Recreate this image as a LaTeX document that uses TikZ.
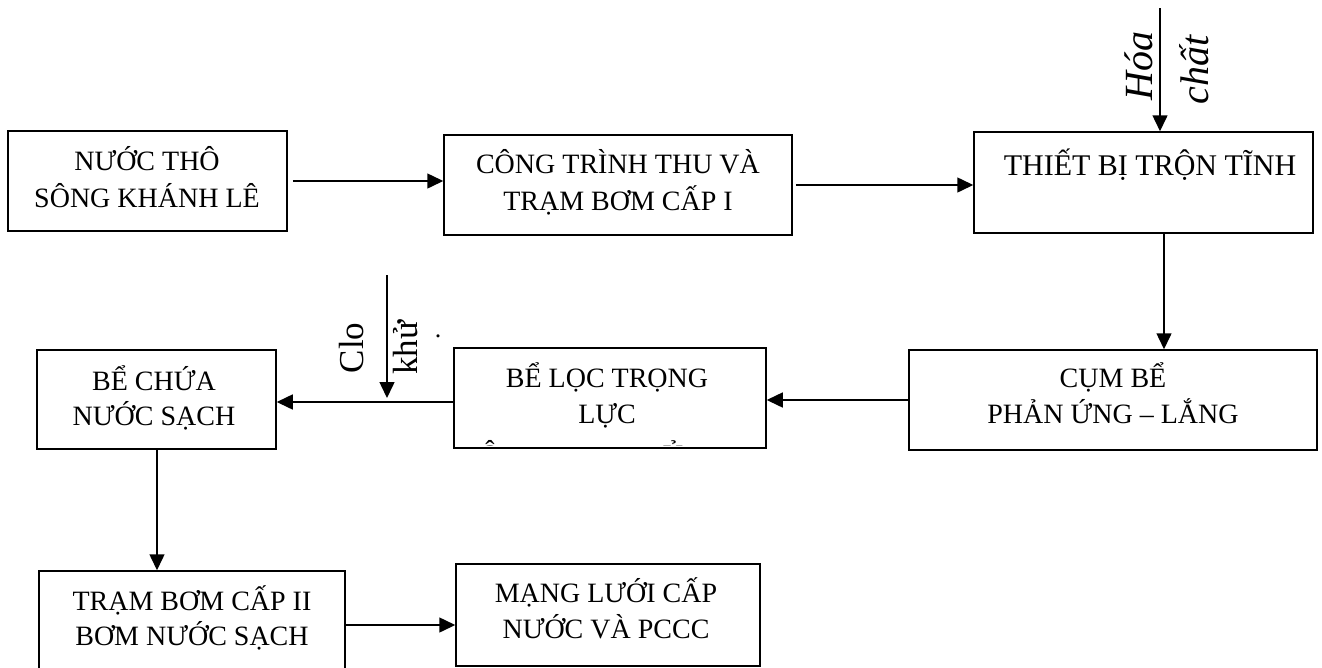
\documentclass[tikz,border=0pt]{standalone}
\usepackage{fontspec}
\setmainfont{Liberation Serif}
\usetikzlibrary{arrows.meta}
\tikzset{
  box/.style={draw, line width=1.5pt, inner sep=0pt},
  arr/.style={line width=1.5pt, -{Triangle[length=16pt,width=15pt]}},
  lbl/.style={anchor=base, font=\fontsize{28}{32}\selectfont, inner sep=0pt},
  side/.style={anchor=base, rotate=90, inner sep=0pt},
}
\begin{document}
\begin{tikzpicture}[x=1pt,y=-1pt]
\clip (0,0) rectangle (1322,667);
% boxes
\node[box, minimum width=279pt, minimum height=100pt] (b1) at (147.5,181) {};
\node[box, minimum width=348pt, minimum height=100pt] (b2) at (618,185) {};
\node[box, minimum width=339pt, minimum height=101pt] (b3) at (1143.5,182.5) {};
\node[box, minimum width=408pt, minimum height=100pt] (b4) at (1113,400) {};
\node[box, minimum width=312pt, minimum height=100pt] (b5) at (610,398) {};
\node[box, minimum width=239pt, minimum height=99pt] (b6) at (156.5,399.5) {};
\node[box, minimum width=306pt, minimum height=200pt] (b7) at (192,671) {};
\node[box, minimum width=304pt, minimum height=102pt] (b8) at (608,615) {};
% texts
\node[lbl] (t1a) at (147,170) {NƯỚC THÔ};
\node[lbl] (t1b) at (147,207) {SÔNG KHÁNH LÊ};
\node[lbl] (t2a) at (618,173) {CÔNG TRÌNH THU VÀ};
\node[lbl] (t2b) at (618,210) {TRẠM BƠM CẤP I};
\node[lbl, font=\fontsize{30}{34}\selectfont] (t3a) at (1150,175) {THIẾT BỊ TRỘN TĨNH};
\node[lbl] (t4a) at (1113,387) {CỤM BỂ};
\node[lbl] (t4b) at (1113,423) {PHẢN ỨNG – LẮNG};
\node[lbl] (t5a) at (607,387) {BỂ LỌC TRỌNG};
\node[lbl] (t5b) at (607,423) {LỰC};
\begin{scope}
  \clip ([xshift=1pt,yshift=-1pt]b5.north west) rectangle ([xshift=-1pt,yshift=3pt]b5.south east);
  \node[lbl] (t5c) at (490,464) {Ô};
  \node[lbl] (t5d) at (673,464) {Ủ};
\end{scope}
\node[lbl] (t6a) at (154,390) {BỂ CHỨA};
\node[lbl] (t6b) at (154,425) {NƯỚC SẠCH};
\node[lbl] (t7a) at (192,610) {TRẠM BƠM CẤP II};
\node[lbl] (t7b) at (192,645) {BƠM NƯỚC SẠCH};
\node[lbl] (t8a) at (606,602) {MẠNG LƯỚI CẤP};
\node[lbl] (t8b) at (606,638) {NƯỚC VÀ PCCC};
% side labels
\node[side, font=\itshape\fontsize{40}{44}\selectfont] (hoa) at (1152,66) {Hóa};
\node[side, font=\itshape\fontsize{40}{44}\selectfont] (chat) at (1208,70) {chất};
\node[side, font=\fontsize{35}{40}\selectfont] (clo) at (363,348) {Clo};
\node[side, font=\fontsize{35}{40}\selectfont] (khu) at (417,348) {khử};
\node[inner sep=0pt, font=\fontsize{26}{30}\selectfont] (dot) at (438,336) {.};
% connectors
\draw[arr] ([xshift=5pt]b1.east) -- (b1.east -| b2.west);
\draw[arr] ([xshift=3pt]b2.east) -- (b2.east -| b3.west);
\coordinate (d3) at ([xshift=20.5pt]b3.south);
\draw[arr] (d3) -- (d3 |- b4.north);
\draw[arr] (b4.west) -- (b4.west -| b5.east);
\coordinate (w5) at ([yshift=-4pt]b5.west);
\draw[arr] (w5) -- (w5 -| b6.east);
\coordinate (d6) at ([xshift=0.5pt]b6.south);
\draw[arr] (d6) -- (d6 |- b7.north);
\coordinate (m8) at ([yshift=-10pt]b8.west);
\draw[arr] (b7.east |- m8) -- (m8);
\coordinate (hc) at (1160,8);
\draw[arr] (hc) -- (hc |- b3.north);
\coordinate (cl) at (387,275);
\coordinate (clend) at (387,398);
\draw[arr] (cl) -- (clend);
\end{tikzpicture}
\end{document}
